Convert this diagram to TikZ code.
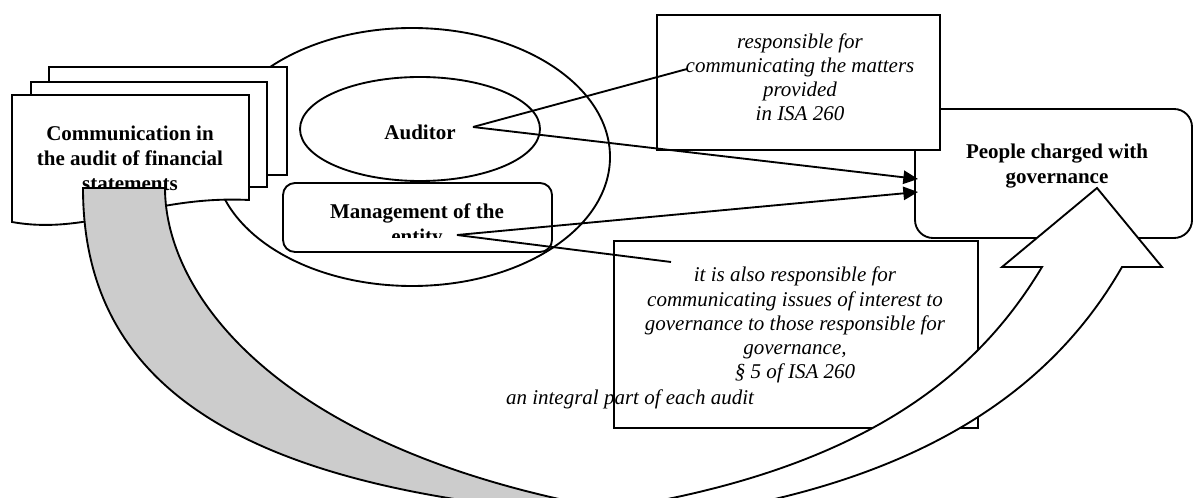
\documentclass[tikz,border=0pt]{standalone}
\usepackage{fontspec}
\setmainfont{Liberation Serif}
\usetikzlibrary{arrows.meta}
\begin{document}
\begin{tikzpicture}[x=0.75pt,y=-0.75pt,
  outline/.style={draw=black,line width=1.4pt,fill=white},
  bold text/.style={font=\fontsize{15.75}{18.9}\selectfont\bfseries,align=center,inner sep=0pt,anchor=base},
  ital text/.style={font=\fontsize{15.75}{18.2}\selectfont\itshape,align=center,inner sep=0pt,anchor=base},
  link/.style={draw=black,line width=1.4pt},
  tolink/.style={link,-{Triangle[length=11pt,width=10pt]}},
  band/.style={draw=black,line width=1.4pt,line join=miter}
]
\useasboundingbox (0,0) rectangle (1195,498);
\clip (0,0) rectangle (1195,498);

% big ellipse and contents
\draw[outline] (412,157) ellipse [x radius=198, y radius=129];
\draw[outline] (420,129) ellipse [x radius=120, y radius=52];
\node[bold text] (aud) at (420,140) {Auditor};
\draw[outline,rounded corners=9pt] (283,183) rectangle (552,252);
\begin{scope}
  \clip (283,183) rectangle (552,238);
  \node[bold text] (mgt) at (417,244) {Management of the\\entity};
\end{scope}

% document stack
\draw[outline] (49,67) rectangle (287,175);
\draw[outline] (31,82) rectangle (267,187);
\draw[outline] (12,95) -- (249,95) -- (249,200) .. controls (150,195) and (90,236) .. (12,222) -- cycle;
\node[bold text] (doc) at (130,191) {Communication in\\the audit of financial\\statements};

% grey back band
\draw[band,fill=black!20]
  (83,188) .. controls (83,380) and (230,490) .. (600,515)
  -- (680,520) .. controls (290,470) and (165,300) .. (165,188)
  -- cycle;

% people charged with governance
\draw[outline,rounded corners=13.5pt] (915,109) rectangle (1192,238);
\node[bold text] (ppl) at (1057,184) {People charged with\\governance};

% responsible box
\draw[outline] (657,15) rectangle (940,150);
\node[ital text] (resp) at (800,121) {responsible for\\communicating the matters\\provided\\in ISA 260};

% also responsible box
\draw[outline] (614,241) rectangle (978,428);
\node[ital text] (also) at (795,379) {it is also responsible for\\communicating issues of interest to\\governance to those responsible for\\governance,\\\S\ 5 of ISA 260};
\node[ital text] (integral) at (630,405) {an integral part of each audit};

% connectors
\coordinate (audR) at (473,127);
\coordinate (mgtR) at (457,235);
\coordinate (respPt) at (687,69);
\coordinate (alsoPt) at (671,262);
\coordinate (pplIn1) at (918,179);
\coordinate (pplIn2) at (918,192);
\draw[link] (audR) -- (respPt);
\draw[tolink] (audR) -- (pplIn1);
\draw[link] (mgtR) -- (alsoPt);
\draw[tolink] (mgtR) -- (pplIn2);

% white front band with arrow head
\draw[band,fill=white]
  (600,525) .. controls (930,500) and (1060,375) .. (1122,267)
  -- (1162,267) -- (1097,188) -- (1002,267) -- (1042,267)
  .. controls (980,370) and (860,490) .. (520,520)
  -- cycle;
\end{tikzpicture}
\end{document}
